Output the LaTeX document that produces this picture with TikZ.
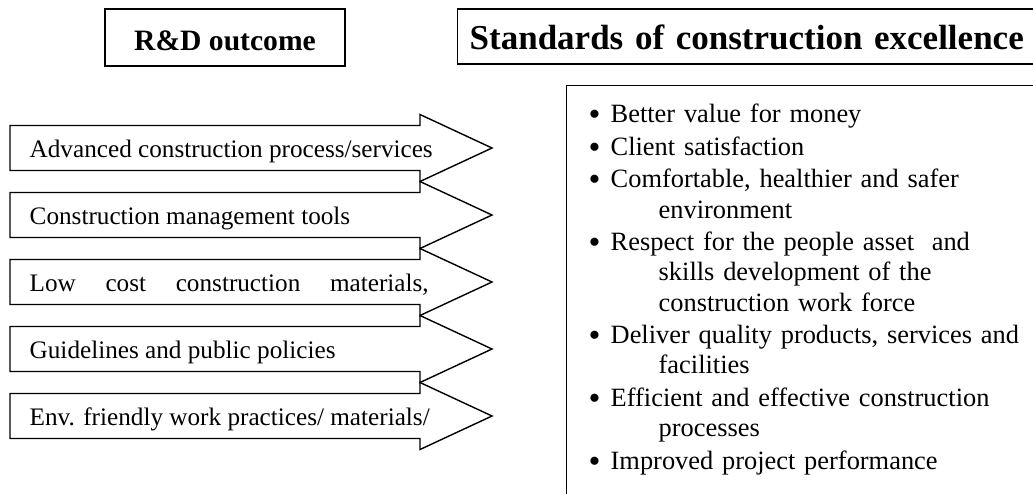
\documentclass[tikz,border=0pt]{standalone}
\usepackage{fontspec}
\setmainfont{Liberation Serif}
\usepackage{tikz}
\usetikzlibrary{calc}

\newcommand{\stdpoint}[1]{\hangindent=35pt\hangafter=1\noindent\makebox[11pt][l]{\raisebox{-1.4pt}{\fontsize{17}{17}\selectfont\textbullet}}#1\par}

\begin{document}
\begin{tikzpicture}[x=0.5pt, y=-0.5pt, line width=0.7pt,
  titlebox/.style={draw, inner ysep=0pt},
  rdarrow/.style={draw, fill=white, line join=miter},
  rdtext/.style={anchor=base west, inner sep=0pt, font=\fontsize{12.6}{15}\selectfont}]
  \fill[white] (0,0) rectangle (1033,493);
  \useasboundingbox (0,0) rectangle (1033,493);
  \clip (0,0) rectangle (1033,493);

  % headings
  \node[titlebox, minimum width=120pt, text height=20.5pt, text depth=8pt,
    font=\bfseries\fontsize{14.8}{17}\selectfont] (rdhead) at (225,37.5) {R\&D outcome};
  \node[titlebox, anchor=west, inner xsep=6pt, text width=320pt, text height=20pt, text depth=7.5pt,
    font=\bfseries\fontsize{17.5}{20}\selectfont] (stdhead) at (457,36.5) {Standards of construction excellence};

  % arrows
  \draw[rdarrow] (10,125.5) -- ++(410,0) -- ++(0,-11) -- ++(72,33.5) -- ++(-72,33.5) -- ++(0,-11) -- ++(-410,0) -- cycle;
  \draw[rdarrow] (10,192.5) -- ++(410,0) -- ++(0,-11) -- ++(72,33.5) -- ++(-72,33.5) -- ++(0,-11) -- ++(-410,0) -- cycle;
  \draw[rdarrow] (10,259.5) -- ++(410,0) -- ++(0,-11) -- ++(72,33.5) -- ++(-72,33.5) -- ++(0,-11) -- ++(-410,0) -- cycle;
  \draw[rdarrow] (10,326.5) -- ++(410,0) -- ++(0,-11) -- ++(72,33.5) -- ++(-72,33.5) -- ++(0,-11) -- ++(-410,0) -- cycle;
  \draw[rdarrow] (10,393.5) -- ++(410,0) -- ++(0,-11) -- ++(72,33.5) -- ++(-72,33.5) -- ++(0,-11) -- ++(-410,0) -- cycle;

  \node[rdtext] (advproc) at (29,157) {Advanced construction process/services};
  \node[rdtext] (mgmttools) at (29,224) {Construction management tools};
  \node[rdtext] (lowcost) at (29,291) {\makebox[199.5pt][s]{Low cost construction materials,}};
  \node[rdtext] (guidelines) at (29,358) {Guidelines and public policies};
  \node[rdtext] (envfriendly) at (29,425) {Env. friendly work practices/ materials/};

  % list of standards
  \node[draw, anchor=north west, inner xsep=11pt, inner ysep=0pt, text width=300pt,
    text height=18.5pt, text depth=230pt, align=left,
    font=\fontsize{13.2}{15.1}\selectfont] (stdlist) at (566,85) {%
    \setlength{\parskip}{1.2pt}%
    \stdpoint{Better value for money}
    \stdpoint{Client satisfaction}
    \stdpoint{Comfortable, healthier and safer\newline environment}
    \stdpoint{Respect for the people asset\ \ and\newline skills development of the\newline construction work force}
    \stdpoint{Deliver quality products, services and\newline facilities}
    \stdpoint{Efficient and effective construction\newline processes}
    \stdpoint{Improved project performance}};
\end{tikzpicture}
\end{document}
